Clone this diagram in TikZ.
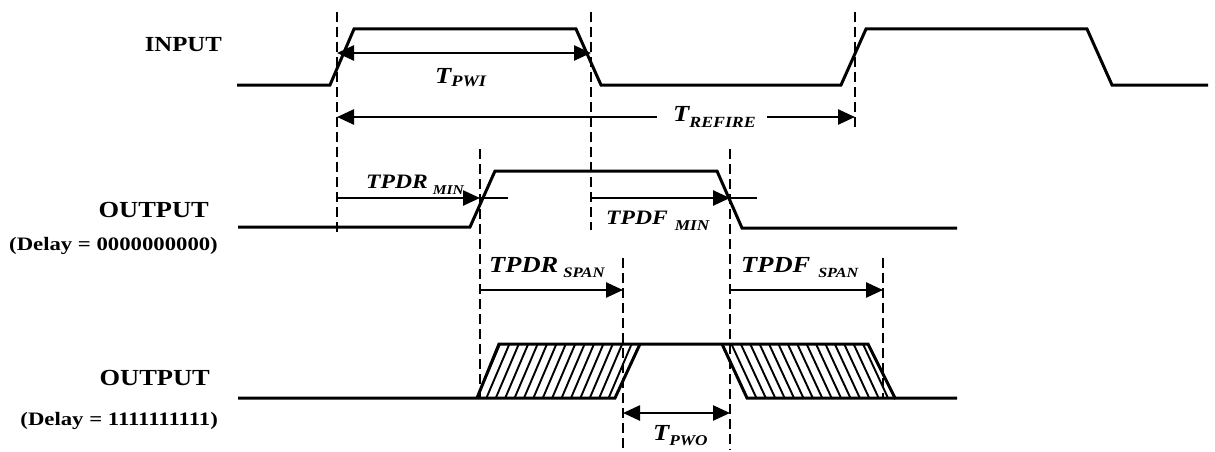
\documentclass[tikz,border=0pt]{standalone}
\usepackage{fontspec}
\usepackage{graphicx}
\setmainfont{Liberation Serif}[FakeStretch=1.15]
\usetikzlibrary{arrows.meta}
\newcommand{\tlab}[6]{\fontsize{#3}{#3}\selectfont\bfseries\itshape #1\hspace{#6pt}\raisebox{-#5pt}{\fontsize{#4}{#4}\selectfont #2}}
\tikzset{
  wave/.style={line width=3pt, line join=miter, line cap=butt},
  guide/.style={line width=2.4pt, dash pattern=on 10pt off 5pt},
  hatch/.style={line width=1.9pt},
  dimr/.style={line width=2.5pt, -{Triangle[length=17pt,width=15pt]}},
  diml/.style={line width=2.5pt, {Triangle[length=17pt,width=15pt]}-},
  dimb/.style={line width=2.5pt, {Triangle[length=17pt,width=15pt]}-{Triangle[length=17pt,width=15pt]}},
  plain/.style={line width=2.5pt},
  sig/.style={anchor=base east, inner sep=0pt, font=\bfseries},
  tl/.style={anchor=base west, inner sep=0pt}
}
\begin{document}
\begin{tikzpicture}[x=1pt,y=-1pt]
\useasboundingbox (0,0) rectangle (1215,452);

% signal names
\node[sig] (in)   at (222,52)  {\fontsize{21.5}{21.5}\selectfont INPUT};
\node[sig] (out1) at (209,217) {\fontsize{23}{23}\selectfont OUTPUT};
\node[sig] (dl1)  at (218,250) {\scalebox{1.04}[1]{\fontsize{19}{19}\selectfont (Delay = 0000000000)}};
\node[sig] (out2) at (210,385) {\fontsize{23}{23}\selectfont OUTPUT};
\node[sig] (dl2)  at (218,425) {\scalebox{1.04}[1]{\fontsize{19}{19}\selectfont (Delay = 1111111111)}};

% guide coordinates
\coordinate (g1t) at (337,12);  \coordinate (g1b) at (337,232);
\coordinate (g2t) at (591,12);  \coordinate (g2b) at (591,230);
\coordinate (g3t) at (855,12);  \coordinate (g3b) at (855,130);
\coordinate (g4t) at (480,149); \coordinate (g4b) at (480,398);
\coordinate (g5t) at (730,149); \coordinate (g5b) at (730,450);
\coordinate (g6t) at (623,258); \coordinate (g6b) at (623,450);
\coordinate (g7t) at (883,258); \coordinate (g7b) at (883,398);
\foreach \g in {1,...,7} \draw[guide] (g\g t) -- (g\g b);

% INPUT waveform
\draw[wave] (237,85) -- (330,85) -- (354,29) -- (576,29) -- (601,85)
  -- (841,85) -- (866,29) -- (1087,29) -- (1112,85) -- (1208,85);

% OUTPUT (Delay = 0)
\draw[wave] (238,227) -- (470,227) -- (495,171) -- (717,171) -- (742,228) -- (957,228);

% OUTPUT (Delay = 1) hatched bands
\begin{scope}
  \clip (477,398) -- (615,398) -- (640,344) -- (499,344) -- cycle;
  \foreach \i in {-1,...,17} \draw[hatch] ({477+\i*9.4},398) -- ++(23,-54);
\end{scope}
\begin{scope}
  \clip (722,344) -- (868,344) -- (895,398) -- (747,398) -- cycle;
  \foreach \i in {-1,...,17} \draw[hatch] ({722+\i*9.4},344) -- ++(25,54);
\end{scope}
\draw[wave] (238,398) -- (615,398) -- (640,344);
\draw[wave] (477,398) -- (499,344) -- (868,344) -- (895,398) -- (957,398);
\draw[wave] (722,344) -- (747,398) -- (895,398);

% T_PWI
\coordinate (pwiL) at (337,53); \coordinate (pwiR) at (591,53);
\draw[dimb] (pwiL) -- (pwiR);
\node[tl] (tpwi) at (435,83) {\tlab{T}{PWI}{23}{16}{3}{0}};

% T_REFIRE
\coordinate (refL) at (337,117); \coordinate (refR) at (855,117);
\coordinate (refA) at (657,117); \coordinate (refB) at (767,117);
\draw[diml] (refL) -- (refA);
\draw[dimr] (refB) -- (refR);
\node[tl] (tref) at (673,121) {\tlab{T}{REFIRE}{23}{15.5}{6}{0}};

% TPDR_MIN
\coordinate (pdrA) at (337,198); \coordinate (pdrB) at (480,198); \coordinate (pdrC) at (508,198);
\draw[dimr] (pdrA) -- (pdrB);
\draw[plain] (pdrB) -- (pdrC);
\node[tl] (tpdrmin) at (366,188) {\tlab{TPDR}{MIN}{20.5}{13.5}{6}{5}};

% TPDF_MIN
\coordinate (pdfA) at (591,198); \coordinate (pdfB) at (730,198); \coordinate (pdfC) at (757,198);
\draw[dimr] (pdfA) -- (pdfB);
\draw[plain] (pdfB) -- (pdfC);
\node[tl] (tpdfmin) at (606,224) {\tlab{TPDF}{MIN}{20.5}{15}{6}{7}};

% TPDR_SPAN
\coordinate (rsA) at (480,290); \coordinate (rsB) at (623,290);
\draw[dimr] (rsA) -- (rsB);
\node[tl] (tpdrspan) at (489,272) {\tlab{TPDR}{SPAN}{23}{14.5}{5}{5}};

% TPDF_SPAN
\coordinate (fsA) at (730,290); \coordinate (fsB) at (883,290);
\draw[dimr] (fsA) -- (fsB);
\node[tl] (tpdfspan) at (741,272) {\tlab{TPDF}{SPAN}{23}{14}{5}{8}};

% T_PWO
\coordinate (pwoL) at (623,413); \coordinate (pwoR) at (730,413);
\draw[dimb] (pwoL) -- (pwoR);
\node[tl] (tpwo) at (653,440) {\tlab{T}{PWO}{23}{15}{5}{0}};
\end{tikzpicture}
\end{document}
